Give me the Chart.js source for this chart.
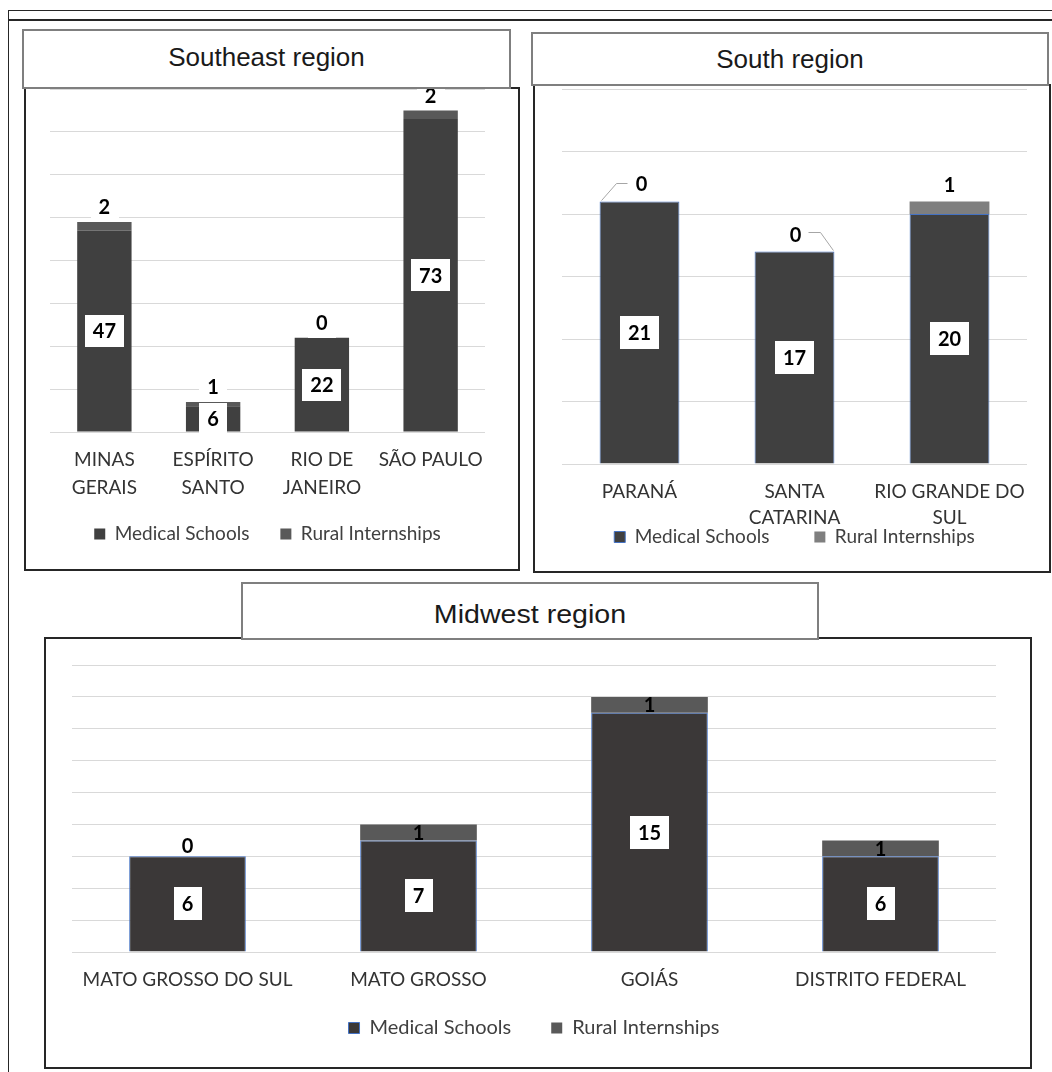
<!DOCTYPE html>
<html>
<head>
<meta charset="utf-8">
<title>Medical schools and rural internships by state</title>
<script src="https://cdn.jsdelivr.net/npm/chart.js@4.4.1/dist/chart.umd.min.js"></script>
<style>
  html, body { margin:0; padding:0; background:#fff; }
  body { position:relative; width:1052px; height:1072px; overflow:hidden; }
  .line { position:absolute; background:#262626; }
  .panel { position:absolute; box-sizing:border-box; border:2px solid #262626; background:#fff; }
  .title { position:absolute; box-sizing:border-box; border:2px solid #7f7f7f; background:#fff; z-index:2; }
  .title span { position:absolute; left:0; right:0; text-align:center; white-space:nowrap;
                font-family:'Liberation Sans', Arial, sans-serif; font-size:26px; line-height:30px; color:#1a1a1a; }
  canvas { position:absolute; z-index:1; }
</style>
</head>
<body>
<div class="line" style="left:8px;top:10px;width:1044px;height:1px"></div>
<div class="line" style="left:8px;top:19px;width:1044px;height:2px"></div>
<div class="line" style="left:8px;top:10px;width:1px;height:1062px"></div>

<div class="panel" style="left:24px;top:87px;width:496px;height:484px"></div>
<canvas id="seChart" width="492" height="479" style="left:26px;top:89px;width:492px;height:479px"></canvas>
<div class="title" style="left:22px;top:29px;width:489px;height:60px"><span style="top:11px">Southeast region</span></div>

<div class="panel" style="left:533px;top:84px;width:518px;height:489px"></div>
<canvas id="southChart" width="514" height="483" style="left:535px;top:87px;width:514px;height:483px"></canvas>
<div class="title" style="left:531px;top:32px;width:518px;height:54px"><span style="top:10px">South region</span></div>

<div class="panel" style="left:44px;top:637px;width:988px;height:432px"></div>
<canvas id="midwestChart" width="983" height="426" style="left:46px;top:640px;width:983px;height:426px"></canvas>
<div class="title" style="left:241px;top:582px;width:578px;height:58px"><span style="top:15px;transform:scaleX(1.1)">Midwest region</span></div>

<script>
// ---- data ----
const seStates = [["MINAS", "GERAIS"], ["ESPÍRITO", "SANTO"], ["RIO DE", "JANEIRO"], "SÃO PAULO"];
const seMedicalSchools = [47, 6, 22, 73];
const seRuralInternships = [2, 1, 0, 2];

const southStates = ["PARANÁ", ["SANTA", "CATARINA"], ["RIO GRANDE DO", "SUL"]];
const southMedicalSchools = [21, 17, 20];
const southRuralInternships = [0, 0, 1];

const midwestStates = ["MATO GROSSO DO SUL", "MATO GROSSO", "GOIÁS", "DISTRITO FEDERAL"];
const midwestMedicalSchools = [6, 7, 15, 6];
const midwestRuralInternships = [0, 1, 1, 1];

const seAxis = { max: 80, step: 10 };
const southAxis = { max: 30, step: 5 };
const midwestAxis = { max: 18, step: 2 };

const seriesNames = ["Medical Schools", "Rural Internships"];

// ---- value labels drawn on the bars ----
const valueLabels = {
  id: 'valueLabels',
  afterDatasetsDraw(chart, args, opts) {
    const ctx = chart.ctx;
    const medMeta = chart.getDatasetMeta(0);
    const rurMeta = chart.getDatasetMeta(1);
    const medVals = chart.data.datasets[0].data;
    const rurVals = chart.data.datasets[1].data;
    ctx.save();
    ctx.font = `bold ${opts.fontSize}px Lato, sans-serif`;
    ctx.textAlign = 'center';
    ctx.textBaseline = 'middle';

    // medical schools: white tag in the middle of the segment
    medMeta.data.forEach((bar, i) => {
      const t = String(medVals[i]);
      const cy = (bar.y + bar.base) / 2;
      const w = ctx.measureText(t).width + opts.boxPadX * 2;
      ctx.fillStyle = '#fff';
      ctx.fillRect(Math.round(bar.x - w / 2), Math.round(cy - opts.boxH / 2), Math.round(w), opts.boxH);
      ctx.fillStyle = '#000';
      ctx.fillText(t, bar.x, cy + 1);
    });

    // rural internships
    const r = opts.rural;
    rurMeta.data.forEach((bar, i) => {
      const v = rurVals[i];
      const t = String(v);
      const top = Math.min(bar.y, bar.base);
      if (r.mode === 'boxed') {
        const cy = top + r.dy;
        const w = ctx.measureText(t).width + r.boxPadX * 2;
        ctx.fillStyle = '#fff';
        ctx.fillRect(Math.round(bar.x - w / 2), Math.round(cy - r.boxH / 2), Math.round(w), r.boxH);
        ctx.fillStyle = '#000';
        ctx.fillText(t, bar.x, cy + 1);
      } else if (r.mode === 'above') {
        const side = r.leaders ? r.leaders[i] : null;
        const half = bar.width / 2;
        ctx.fillStyle = '#000';
        if (side === 'left') {
          const ly = top + r.dy - 1;
          ctx.fillText(t, bar.x + 2, ly + 1);
          ctx.strokeStyle = '#a6a6a6';
          ctx.lineWidth = 1;
          ctx.beginPath();
          ctx.moveTo(bar.x - 12, ly);
          ctx.lineTo(bar.x - 23, ly);
          ctx.lineTo(bar.x - half + 2, top - 1);
          ctx.stroke();
        } else if (side === 'right') {
          const ly = top + r.dy;
          ctx.fillText(t, bar.x + 1, ly + 1);
          ctx.strokeStyle = '#a6a6a6';
          ctx.lineWidth = 1;
          ctx.beginPath();
          ctx.moveTo(bar.x + 14, ly - 2);
          ctx.lineTo(bar.x + 26, ly - 2);
          ctx.lineTo(bar.x + half - 1, top - 1);
          ctx.stroke();
        } else {
          ctx.fillText(t, bar.x, top + r.dy + 1);
        }
      } else {
        ctx.fillStyle = '#000';
        const cy = v === 0 ? top + r.zeroDy : (bar.y + bar.base) / 2;
        ctx.fillText(t, bar.x, cy + 1);
      }
    });
    ctx.restore();
  }
};

// ---- moves the legend row so its text sits at a given height ----
const legendRow = {
  id: 'legendRow',
  afterLayout(chart, args, opts) {
    const lg = chart.legend;
    if (!lg || opts.textY == null) return;
    const pad = lg.options.labels.padding;
    const top = opts.textY - pad - opts.fontSize / 2;
    lg.top = top;
    lg.bottom = top + pad + opts.fontSize * 2;
    lg.height = lg.bottom - lg.top;
  }
};

function buildChart(id, cfg) {
  return new Chart(document.getElementById(id), {
    type: 'bar',
    data: {
      labels: cfg.labels,
      datasets: [
        {
          label: seriesNames[0], data: cfg.medical,
          backgroundColor: cfg.medColor, borderColor: cfg.medBorder, borderWidth: cfg.medBorderWidth,
          borderSkipped: 'bottom', categoryPercentage: 1, barPercentage: cfg.barPct
        },
        {
          label: seriesNames[1], data: cfg.rural,
          backgroundColor: cfg.ruralColor, borderWidth: 0,
          categoryPercentage: 1, barPercentage: cfg.barPct
        }
      ]
    },
    options: {
      responsive: false,
      animation: false,
      devicePixelRatio: 1,
      layout: { padding: cfg.padding },
      scales: {
        x: {
          stacked: true,
          grid: { display: false, drawTicks: false },
          border: { display: false },
          ticks: { autoSkip: false, maxRotation: 0, minRotation: 0, padding: cfg.tickPad, color: '#333', font: cfg.tickFont },
          afterFit(s) { s.height = cfg.axisHeight; }
        },
        y: {
          stacked: true, min: 0, max: cfg.axis.max,
          grid: { color: '#d9d9d9', drawTicks: false, lineWidth: 1 },
          border: { display: false },
          ticks: { display: false, stepSize: cfg.axis.step },
          afterFit(s) { s.width = 0; }
        }
      },
      plugins: {
        legend: {
          position: 'bottom',
          maxHeight: cfg.legendHeight,
          labels: { boxWidth: 11, boxHeight: 11, padding: cfg.legendPad, color: '#404040', font: cfg.legendFont }
        },
        legendRow: { textY: cfg.legendTextY, fontSize: cfg.legendFont.size },
        tooltip: { enabled: false },
        valueLabels: cfg.labelOpts
      }
    },
    plugins: [valueLabels, legendRow]
  });
}

buildChart('seChart', {
  labels: seStates, medical: seMedicalSchools, rural: seRuralInternships, axis: seAxis,
  medColor: '#404040', medBorder: '#404040', medBorderWidth: 0, ruralColor: '#595959',
  barPct: 0.5,
  padding: { left: 24, right: 33, top: 0, bottom: 24 },
  tickPad: 14, axisHeight: 72,
  tickFont: { family: 'Lato, sans-serif', size: 19, lineHeight: 28 / 19 },
  legendPad: 31, legendHeight: 40, legendTextY: 445,
  legendFont: { family: 'Lato, sans-serif', size: 19 },
  labelOpts: { fontSize: 20, boxH: 32, boxPadX: 8, rural: { mode: 'boxed', dy: -15, boxH: 30, boxPadX: 8 } }
});

buildChart('southChart', {
  labels: southStates, medical: southMedicalSchools, rural: southRuralInternships, axis: southAxis,
  medColor: '#404040', medBorder: '#4472c4', medBorderWidth: 1, ruralColor: '#7f7f7f',
  barPct: 0.515,
  padding: { left: 27, right: 22, top: 2, bottom: 10 },
  tickPad: 15, axisHeight: 66,
  tickFont: { family: 'Lato, sans-serif', size: 19, lineHeight: 26 / 19 },
  legendPad: 45, legendHeight: 30, legendTextY: 450,
  legendFont: { family: 'Lato, sans-serif', size: 19 },
  labelOpts: { fontSize: 20, boxH: 33, boxPadX: 8, rural: { mode: 'above', dy: -17, leaders: ['left', 'right', null] } }
});

buildChart('midwestChart', {
  labels: midwestStates, medical: midwestMedicalSchools, rural: midwestRuralInternships, axis: midwestAxis,
  medColor: '#3b3838', medBorder: '#4472c4', medBorderWidth: 1, ruralColor: '#595959',
  barPct: 0.505,
  padding: { left: 26, right: 33, top: 25, bottom: 29 },
  tickPad: 15, axisHeight: 45,
  tickFont: { family: 'Lato, sans-serif', size: 19, lineHeight: 26 / 19 },
  legendPad: 40, legendHeight: 40, legendTextY: 388,
  legendFont: { family: 'Lato, sans-serif', size: 20 },
  labelOpts: { fontSize: 20, boxH: 33, boxPadX: 8, rural: { mode: 'center', zeroDy: -11 } }
});
</script>
</body>
</html>
